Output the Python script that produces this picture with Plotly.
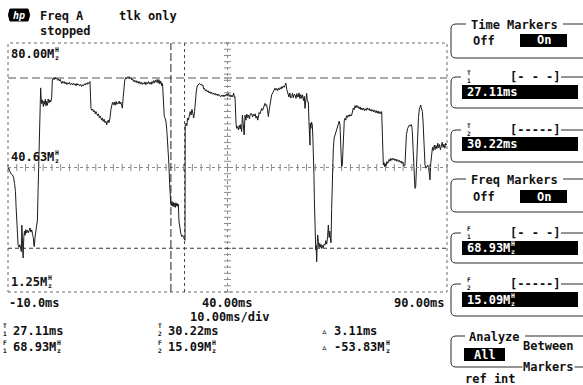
import plotly.graph_objects as go
import numpy as np

W, H = 583, 385
FONT = "DejaVu Sans Mono"
ADV = 0.602  # advance width of the monospace font, in em


def px(x):
    return x / W


def py(y):
    return 1 - y / H


# ---------------- data ----------------
time_ms = [
    -10.0, -9.85, -9.7, -9.5, -9.3, -9.0, -8.75, -8.5, -8.3, -8.15,
    -8.0, -7.85, -7.7, -7.5, -7.3, -7.1, -6.95, -6.85, -6.7, -6.55,
    -6.4, -6.25, -6.1, -5.95, -5.75, -5.55, -5.35, -5.15, -4.99, -4.8,
    -4.6, -4.4, -4.23, -4.1, -4.0, -3.85, -3.7, -3.47, -3.3, -3.15,
    -3.0, -2.9, -2.8, -2.7, -2.56, -2.45, -2.3, -2.15, -1.95, -1.8,
    -1.65, -1.5, -1.35, -1.19, -1.0, -0.85, -0.65, -0.43, -0.25, -0.05,
    0.05, 0.1, 0.33, 0.5, 0.7, 0.9, 1.1, 1.3, 1.5, 1.7,
    1.9, 2.1, 2.22, 2.4, 2.6, 2.8, 3.0, 3.2, 3.4, 3.6,
    3.8, 4.0, 4.2, 4.5, 4.7, 4.9, 5.1, 5.3, 5.5, 5.7,
    5.9, 6.1, 6.3, 6.55, 6.78, 7.0, 7.2, 7.4, 7.6, 7.8,
    8.0, 8.2, 8.4, 8.55, 8.68, 8.8, 8.91, 9.1, 9.3, 9.5,
    9.7, 9.9, 10.05, 10.2, 10.4, 10.6, 10.8, 11.0, 11.15, 11.34,
    11.5, 11.7, 11.9, 12.1, 12.3, 12.48, 12.65, 12.85, 13.0, 13.23,
    13.45, 13.62, 13.8, 14.0, 14.2, 14.4, 14.6, 14.8, 15.0, 15.13,
    15.3, 15.5, 15.7, 15.9, 16.05, 16.25, 16.4, 16.6, 16.8, 17.0,
    17.2, 17.4, 17.6, 17.8, 18.0, 18.2, 18.4, 18.6, 18.8, 19.0,
    19.2, 19.4, 19.6, 19.8, 20.0, 20.2, 20.4, 20.6, 20.8, 21.0,
    21.2, 21.4, 21.6, 21.8, 22.0, 22.2, 22.4, 22.6, 22.8, 23.0,
    23.2, 23.4, 23.6, 23.8, 24.0, 24.2, 24.4, 24.6, 24.8, 25.0,
    25.2, 25.35, 25.45, 25.6, 25.8, 26.0, 26.2, 26.36, 26.5, 26.66,
    26.8, 26.9, 27.05, 27.2, 27.35, 27.5, 27.65, 27.8, 27.95, 28.1,
    28.25, 28.4, 28.55, 28.7, 28.8, 28.96, 29.2, 29.4, 29.6, 29.8,
    30.0, 30.2, 30.32, 30.37, 30.55, 30.75, 30.9, 31.1, 31.3, 31.5,
    31.7, 31.9, 32.1, 32.3, 32.5, 32.7, 32.9, 33.1, 33.36, 33.6,
    33.8, 34.0, 34.2, 34.4, 34.6, 34.8, 35.0, 35.2, 35.4, 35.6,
    35.8, 36.0, 36.2, 36.4, 36.6, 36.8, 37.0, 37.2, 37.4, 37.6,
    37.8, 38.0, 38.2, 38.4, 38.6, 38.8, 39.0, 39.2, 39.43, 39.6,
    39.8, 40.0, 40.2, 40.4, 40.6, 40.8, 41.0, 41.2, 41.4, 41.6,
    41.71, 41.94, 42.1, 42.3, 42.5, 42.7, 42.9, 43.0, 43.23, 43.4,
    43.6, 43.8, 43.99, 44.2, 44.4, 44.6, 44.8, 45.0, 45.2, 45.5,
    45.7, 45.9, 46.1, 46.3, 46.5, 46.7, 46.9, 47.02, 47.2, 47.4,
    47.6, 47.78, 48.0, 48.2, 48.4, 48.54, 48.7, 48.9, 49.1, 49.3,
    49.5, 49.7, 49.9, 50.06, 50.3, 50.5, 50.7, 50.82, 51.0, 51.2,
    51.4, 51.58, 51.8, 52.0, 52.2, 52.34, 52.5, 52.7, 52.9, 53.1,
    53.3, 53.5, 53.7, 53.86, 54.0, 54.2, 54.4, 54.62, 54.8, 55.0,
    55.2, 55.38, 55.6, 55.8, 56.0, 56.13, 56.3, 56.5, 56.7, 56.89,
    57.1, 57.3, 57.5, 57.65, 57.85, 58.03, 58.2, 58.41, 58.56, 58.7,
    58.79, 58.85, 59.0, 59.15, 59.32, 59.45, 59.55, 59.7, 59.78, 59.88,
    59.93, 60.1, 60.2, 60.31, 60.45, 60.55, 60.69, 60.85, 61.0, 61.15,
    61.3, 61.45, 61.6, 61.8, 62.0, 62.21, 62.4, 62.6, 62.8, 62.97,
    63.15, 63.3, 63.45, 63.58, 63.73, 63.88, 64.11, 64.3, 64.49, 64.7,
    64.9, 65.1, 65.25, 65.45, 65.63, 65.8, 65.9, 66.0, 66.15, 66.3,
    66.39, 66.6, 66.77, 66.95, 67.1, 67.3, 67.5, 67.7, 67.9, 68.1,
    68.29, 68.45, 68.65, 68.85, 69.05, 69.25, 69.45, 69.65, 69.81, 70.0,
    70.2, 70.4, 70.6, 70.8, 71.0, 71.2, 71.4, 71.6, 71.8, 72.08,
    72.3, 72.5, 72.7, 72.9, 73.1, 73.3, 73.5, 73.7, 73.9, 74.1,
    74.3, 74.5, 74.7, 74.9, 75.12, 75.3, 75.5, 75.65, 75.8, 75.95,
    76.1, 76.3, 76.5, 76.64, 76.8, 77.0, 77.2, 77.4, 77.6, 77.8,
    78.0, 78.16, 78.35, 78.55, 78.75, 78.95, 79.15, 79.35, 79.55, 79.75,
    79.95, 80.1, 80.25, 80.43, 80.59, 80.75, 81.04, 81.25, 81.45, 81.65,
    81.85, 82.0, 82.1, 82.3, 82.45, 82.56, 82.7, 82.86, 82.98, 83.12,
    83.32, 83.5, 83.7, 83.85, 84.01, 84.15, 84.39, 84.55, 84.75, 84.9,
    84.99, 85.2, 85.4, 85.6, 85.8, 85.95, 86.13, 86.3, 86.51, 86.7,
    86.9, 87.1, 87.3, 87.5, 87.7, 87.9, 88.1, 88.3, 88.5, 88.7,
    88.9, 89.1, 89.3, 89.5, 89.7, 89.93,
]

freq_mhz = [
    40.0, 40.6, 39.8, 39.2, 38.6, 38.3, 37.6, 35.5, 33.0, 28.0,
    23.0, 19.3, 16.1, 15.4, 16.2, 14.9, 14.0, 22.4, 16.0, 12.0,
    18.5, 20.5, 19.2, 21.0, 19.9, 20.8, 20.0, 21.0, 21.5, 20.2,
    20.9, 19.5, 18.4, 15.9, 15.6, 18.5, 20.2, 20.9, 24.0, 33.0,
    42.0, 50.0, 58.0, 62.6, 65.8, 62.4, 60.8, 62.0, 59.9, 61.6,
    60.6, 62.2, 60.1, 61.5, 60.3, 62.3, 61.1, 62.0, 61.4, 62.8,
    66.5, 68.3, 69.0, 68.4, 69.2, 68.6, 68.9, 68.2, 68.7, 68.0,
    68.5, 67.6, 67.2, 67.9, 67.3, 67.8, 67.1, 67.6, 66.9, 67.4,
    67.0, 67.6, 66.8, 67.2, 66.7, 67.3, 66.8, 67.1, 66.5, 67.2,
    66.7, 67.0, 66.4, 66.9, 66.2, 66.8, 66.5, 67.1, 66.7, 67.3,
    66.9, 67.5, 67.1, 67.6, 67.8, 63.0, 59.3, 58.7, 59.1, 58.2,
    58.6, 57.6, 58.3, 57.8, 57.0, 57.6, 56.4, 56.9, 55.8, 55.6,
    56.3, 55.2, 55.9, 54.8, 55.3, 54.1, 55.0, 55.6, 54.8, 56.3,
    59.0, 60.4, 61.2, 60.5, 61.3, 60.3, 61.5, 60.6, 61.1, 60.9,
    61.6, 60.7, 61.3, 60.2, 59.4, 63.0, 66.5, 68.3, 69.1, 68.6,
    69.3, 68.8, 69.4, 68.7, 69.0, 68.3, 68.6, 67.8, 68.3, 67.6,
    68.1, 67.4, 67.9, 67.2, 67.8, 67.0, 67.6, 66.9, 67.4, 67.0,
    67.7, 66.8, 67.5, 67.1, 67.8, 67.0, 67.6, 66.9, 67.8, 67.2,
    68.1, 67.4, 68.3, 67.6, 68.5, 67.3, 68.4, 67.0, 68.0, 66.5,
    67.2, 64.0, 60.0, 56.7, 56.2, 55.0, 52.0, 49.3, 45.0, 41.4,
    36.0, 31.0, 29.7, 28.6, 29.9, 28.4, 29.6, 28.2, 29.3, 28.0,
    29.5, 28.5, 29.2, 28.3, 29.0, 23.4, 20.3, 19.5, 18.8, 19.2,
    18.5, 18.0, 17.6, 54.1, 54.6, 53.8, 56.3, 55.6, 57.5, 58.3,
    57.2, 59.0, 57.8, 56.3, 58.4, 62.5, 64.8, 66.4, 66.7, 67.2,
    66.8, 67.0, 66.5, 66.7, 65.4, 65.6, 64.8, 65.2, 64.5, 64.9,
    64.2, 64.6, 64.0, 64.4, 63.8, 64.2, 63.7, 64.1, 63.5, 63.9,
    63.3, 63.8, 63.4, 63.0, 63.5, 63.1, 63.6, 63.0, 63.6, 63.2,
    63.9, 63.3, 64.1, 63.1, 63.6, 62.9, 63.5, 63.0, 64.1, 62.8,
    63.0, 54.6, 53.0, 53.6, 52.5, 54.0, 52.8, 54.2, 52.0, 57.2,
    53.6, 50.9, 57.2, 55.6, 57.5, 56.4, 57.2, 56.0, 57.6, 57.7,
    56.6, 57.4, 56.9, 57.6, 56.2, 56.9, 55.6, 56.7, 58.0, 57.6,
    58.8, 59.3, 58.7, 59.6, 60.1, 60.9, 60.2, 60.5, 59.2, 56.7,
    58.8, 60.6, 62.4, 63.6, 64.2, 64.8, 65.4, 65.7, 65.1, 65.6,
    64.9, 65.7, 65.2, 65.9, 65.4, 66.2, 65.7, 66.4, 66.0, 66.7,
    67.3, 65.3, 64.5, 63.6, 62.9, 64.2, 62.6, 63.0, 64.1, 62.7,
    63.8, 63.6, 62.5, 64.0, 62.9, 63.0, 64.2, 62.4, 63.7, 62.5,
    63.6, 61.8, 63.1, 59.3, 62.0, 64.1, 61.5, 61.4, 55.1, 48.5,
    47.7, 54.6, 53.0, 55.0, 54.1, 50.0, 46.7, 38.0, 30.9, 22.0,
    15.0, 14.5, 16.0, 10.8, 17.0, 19.3, 17.2, 15.3, 16.6, 15.4,
    16.3, 15.0, 16.0, 15.2, 16.4, 16.1, 17.5, 16.4, 18.8, 22.4,
    18.5, 20.5, 18.0, 16.8, 27.7, 39.3, 46.7, 50.0, 50.9, 52.0,
    52.6, 54.1, 54.6, 55.3, 54.0, 50.0, 44.0, 40.9, 41.5, 46.0,
    52.0, 55.4, 56.2, 55.6, 57.0, 56.4, 57.2, 56.7, 57.4, 56.9,
    57.2, 58.6, 59.4, 58.9, 60.2, 59.5, 60.3, 59.6, 59.9, 59.2,
    59.8, 58.9, 59.5, 58.8, 59.4, 58.6, 59.2, 58.7, 59.5, 58.8,
    59.3, 58.5, 59.0, 58.4, 58.9, 58.2, 58.8, 58.0, 58.6, 57.8,
    58.5, 57.7, 58.3, 57.6, 58.3, 50.0, 41.4, 42.2, 40.9, 41.8,
    41.0, 42.5, 41.9, 42.5, 43.2, 42.6, 43.5, 42.9, 43.6, 43.0,
    43.4, 42.8, 43.3, 42.6, 43.1, 42.5, 42.9, 42.2, 42.7, 41.9,
    42.4, 41.4, 41.0, 41.4, 46.0, 51.0, 53.0, 53.6, 54.1, 53.7,
    54.2, 53.5, 52.0, 46.0, 41.4, 38.0, 34.0, 34.4, 38.5, 46.0,
    52.0, 56.5, 59.0, 59.8, 60.4, 59.5, 58.3, 55.0, 49.0, 44.0,
    41.4, 40.4, 41.0, 41.4, 40.7, 39.5, 36.7, 42.0, 45.6, 47.0,
    46.0, 47.7, 46.3, 47.6, 46.6, 48.3, 46.8, 47.9, 46.2, 47.4,
    48.6, 47.0, 48.0, 46.7, 48.3, 47.7,
]
assert len(time_ms) == len(freq_mhz)

time_range_ms = [-10.0, 90.0]
time_per_div = 10.0
freq_range_mhz = [1.25, 80.00]
time_markers_ms = [27.11, 30.22]      # T1, T2
freq_markers_mhz = [68.93, 15.09]     # F1, F2
delta_readouts = ["3.11ms", "-53.83"]  # delta T, delta F (MHz)

time_tick_labels = ["-10.0ms", "40.00ms", "90.00ms"]
freq_tick_labels = ["80.00", "40.63", "1.25"]

T1, T2 = time_markers_ms
F1, F2 = freq_markers_mhz
t_mid = (time_range_ms[0] + time_range_ms[1]) / 2
f_mid = (freq_range_mhz[0] + freq_range_mhz[1]) / 2

# ---------------- figure ----------------
fig = go.Figure()

# center crosshair tick marks
xt = np.arange(time_range_ms[0], time_range_ms[1] + 1e-9, time_per_div / 5)
fig.add_trace(go.Scatter(x=xt, y=[f_mid] * len(xt), mode="markers",
                         marker=dict(symbol="line-ns", size=5, line=dict(color="#8a8a8a", width=1)),
                         hoverinfo="skip", cliponaxis=False))
ystep = (freq_range_mhz[1] - freq_range_mhz[0]) / 40
yt = np.arange(freq_range_mhz[0], freq_range_mhz[1] + 1e-9, ystep)
fig.add_trace(go.Scatter(x=[t_mid] * len(yt), y=yt, mode="markers",
                         marker=dict(symbol="line-ew", size=5, line=dict(color="#8a8a8a", width=1)),
                         hoverinfo="skip", cliponaxis=False))

# the measured trace
fig.add_trace(go.Scatter(x=time_ms, y=freq_mhz, mode="lines",
                         line=dict(color="#1c1c1c", width=1), hoverinfo="skip"))

shapes = []
ann = []


def vline_data(x, dash, color):
    shapes.append(dict(type="line", xref="x", yref="y domain", x0=x, x1=x, y0=0, y1=1,
                       line=dict(color=color, width=1, dash=dash), layer="above"))


def hline_data(y, dash, color):
    shapes.append(dict(type="line", xref="x domain", yref="y", x0=0, x1=1, y0=y, y1=y,
                       line=dict(color=color, width=1, dash=dash), layer="above"))


# plot frame (dotted) and center crosshair
shapes.append(dict(type="rect", xref="x domain", yref="y domain", x0=0, x1=1, y0=0, y1=1,
                   line=dict(color="#6a6a6a", width=1, dash="dot")))
vline_data(t_mid, "dot", "#8a8a8a")
hline_data(f_mid, "dot", "#8a8a8a")
# markers
hline_data(F1, "8px,4px", "#555555")
hline_data(F2, "4px,3px", "#333333")
vline_data(T1, "8px,3px", "#222222")
vline_data(T2, "3px,3px", "#444444")


def seg(x0, y0, x1, y1, color="#2a2a2a", width=1):
    shapes.append(dict(type="line", xref="paper", yref="paper", x0=px(x0), y0=py(y0),
                       x1=px(x1), y1=py(y1), line=dict(color=color, width=width)))


def rect(x0, y0, x1, y1, fill="black"):
    shapes.append(dict(type="rect", xref="paper", yref="paper", x0=px(x0), y0=py(y0),
                       x1=px(x1), y1=py(y1), fillcolor=fill, line=dict(width=0)))


def bracket_box(top, bottom, left_end, right_start, left=451, r=5):
    p = (f"M {px(left_end)},{py(top)} L {px(left + r)},{py(top)} "
         f"Q {px(left)},{py(top)} {px(left)},{py(top + r)} "
         f"L {px(left)},{py(bottom - r)} "
         f"Q {px(left)},{py(bottom)} {px(left + r)},{py(bottom)} "
         f"L {px(W)},{py(bottom)}")
    shapes.append(dict(type="path", xref="paper", yref="paper", path=p,
                       line=dict(color="#2a2a2a", width=1)))
    seg(right_start, top, W, top)


def text(x, y, s, size=12, color="#111111", xanchor="left", bold=True, bg="rgba(0,0,0,0)",
         italic=False):
    ann.append(dict(x=px(x), y=py(y), xref="paper", yref="paper", text=s, showarrow=False,
                    xanchor=xanchor, yanchor="middle", bgcolor=bg, borderpad=0,
                    font=dict(family=FONT, size=size, color=color,
                              weight="bold" if bold else "normal",
                              style="italic" if italic else "normal")))


def stacked(x, y, top, bot, size=6.2, color="#111111"):
    # one glyph cell holding a letter above a small index, as on the instrument
    text(x, y, f"{top}<br>{bot}", size=size, color=color, xanchor="center")


def mhz(x, y, num, size=12, color="#111111", bg="rgba(0,0,0,0)"):
    s = num + "M"
    text(x, y, s, size=size, color=color, bg=bg)
    hx = x + len(s) * ADV * size + 4
    stacked(hx, y, "H", "z", size=6.5, color=color)


# ---- header ----
logo = (f"M {px(10)},{py(9)} L {px(28)},{py(9)} Q {px(31)},{py(15)} {px(28)},{py(21)} "
        f"L {px(10)},{py(21)} Q {px(7)},{py(15)} {px(10)},{py(9)} Z")
shapes.append(dict(type="path", xref="paper", yref="paper", path=logo, fillcolor="black",
                   line=dict(color="black", width=1)))
text(19, 15, "hp", size=10, color="white", xanchor="center", italic=True)
text(39, 16, "Freq A")
text(118, 16, "tlk only")
text(39, 31, "stopped")

# ---- in-plot frequency labels ----
mhz(10, 54, freq_tick_labels[0])
mhz(10, 157, freq_tick_labels[1])
mhz(10, 282, freq_tick_labels[2])

# ---- time labels ----
text(8, 303, time_tick_labels[0])
text(227.5, 303, time_tick_labels[1], xanchor="center")
text(446, 303, time_tick_labels[2], xanchor="right")
text(229, 317, f"{time_per_div:.2f}ms/div", xanchor="center")

# ---- readouts below the plot ----
stacked(5, 329.5, "T", "1")
text(12, 331, f"{T1:.2f}ms")
stacked(160, 329.5, "T", "2")
text(167, 331, f"{T2:.2f}ms")
text(325, 331, "▵", size=11, color="#222222", xanchor="center", bold=False)
text(333, 331, delta_readouts[0])
stacked(5, 346.5, "F", "1")
mhz(12, 347, f"{F1:.2f}")
stacked(160, 346.5, "F", "2")
mhz(167, 347, f"{F2:.2f}")
text(325, 347, "▵", size=11, color="#222222", xanchor="center", bold=False)
mhz(333, 347, delta_readouts[1])

# ---- right-hand softkey panel ----
# Time Markers
bracket_box(24, 58, 466, 563)
text(470, 25, "Time Markers")
text(472, 41, "Off")
rect(520, 34, 567, 47)
text(543.5, 40.5, "On", color="white", xanchor="center")

# T1
bracket_box(77, 108, 461, 561)
stacked(469, 76, "T", "1")
text(509, 77, "[- - -]")
rect(462, 85, 578, 99)
text(466, 92, f"{T1:.2f}ms", color="white")

# T2
bracket_box(130, 162, 461, 561)
stacked(469, 129, "T", "2")
text(509, 130, "[-----]")
rect(462, 137, 578, 151)
text(466, 144.5, f"{T2:.2f}ms", color="white")

# Freq Markers
bracket_box(179, 212, 466, 563)
text(470, 180, "Freq Markers")
text(472, 197, "Off")
rect(520, 190, 567, 203)
text(543.5, 196.5, "On", color="white", xanchor="center")

# F1
bracket_box(233, 263, 461, 561)
stacked(469, 232, "F", "1")
text(509, 233, "[- - -]")
rect(462, 241, 578, 255)
mhz(466, 248, f"{F1:.2f}", color="white")

# F2
bracket_box(284, 316, 461, 561)
stacked(469, 283, "F", "2")
text(509, 284, "[-----]")
rect(462, 292, 578, 307)
mhz(466, 299.5, f"{F2:.2f}", color="white")

# Analyze
bracket_box(336, 367, 465, 525)
text(468, 337, "Analyze")
rect(464, 348, 505, 361)
text(484.5, 354.5, "All", color="white", xanchor="center")
text(522, 346, "Between")
text(522, 366.5, "Markers", bg="white")
text(464, 378.5, "ref int")

fig.update_layout(
    width=W, height=H,
    margin=dict(l=0, r=0, t=0, b=0),
    paper_bgcolor="white", plot_bgcolor="white",
    showlegend=False,
    xaxis=dict(domain=[px(8), px(447)], range=time_range_ms, visible=False, fixedrange=True),
    yaxis=dict(domain=[py(292), py(43)], range=freq_range_mhz, visible=False, fixedrange=True),
    shapes=shapes,
    annotations=ann,
    font=dict(family=FONT, size=12, color="#111111"),
)

fig.write_html("out.html", config={"displayModeBar": False},
               post_script="document.body.style.margin='0';document.body.style.overflow='hidden';")
